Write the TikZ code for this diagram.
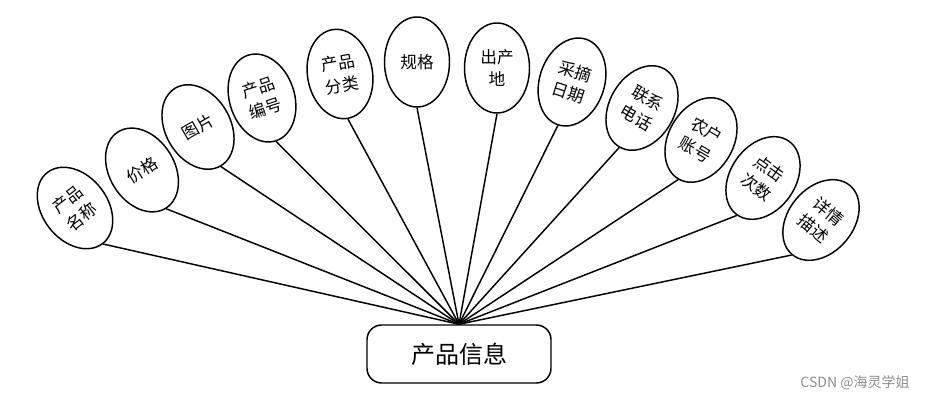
\documentclass[tikz,border=0pt]{standalone}
\usepackage{fontspec}
\setmainfont{Noto Sans CJK SC}
\usetikzlibrary{shapes.geometric}
\begin{document}
\begin{tikzpicture}[x=0.75pt,y=-0.75pt,
  attr/.style={ellipse,draw,line width=1.1pt,minimum width=48.75pt,minimum height=67.5pt,inner sep=0pt,align=center,font=\fontsize{12.5}{17}\selectfont},
  ent/.style={draw,line width=1.1pt,rounded corners=11pt,minimum width=138pt,minimum height=43.5pt,font=\fontsize{18}{22}\selectfont},
  link/.style={line width=1.1pt}]
\useasboundingbox (0,0) rectangle (939,402);
\node[ent] (main) at (459,354) {产品信息};
\coordinate (hub) at (main.north);
\node[attr,rotate=38] (a1) at (75,208) {产品\\名称};
\node[attr,rotate=32] (a2) at (142,170) {价格};
\node[attr,rotate=30] (a3) at (198,127) {图片};
\node[attr,rotate=18] (a4) at (262,98) {产品\\编号};
\node[attr,rotate=10] (a5) at (340,74) {产品\\分类};
\node[attr] (a6) at (417,62) {规格};
\node[attr] (a7) at (497,68) {出产\\地};
\node[attr,rotate=-18] (a8) at (572,82) {采摘\\日期};
\node[attr,rotate=-30] (a9) at (642,108) {联系\\电话};
\node[attr,rotate=-30] (a10) at (701,140) {农户\\账号};
\node[attr,rotate=-35] (a11) at (763,178) {点击\\次数};
\node[attr,rotate=-40] (a12) at (821,220) {详情\\描述};
\foreach \i in {1,...,12} \draw[link] (a\i.south) -- (hub);
\node[text=black!45,font=\fontsize{10.5}{12}\selectfont] (wm) at (855,383) {CSDN @海灵学姐};
\end{tikzpicture}
\end{document}
